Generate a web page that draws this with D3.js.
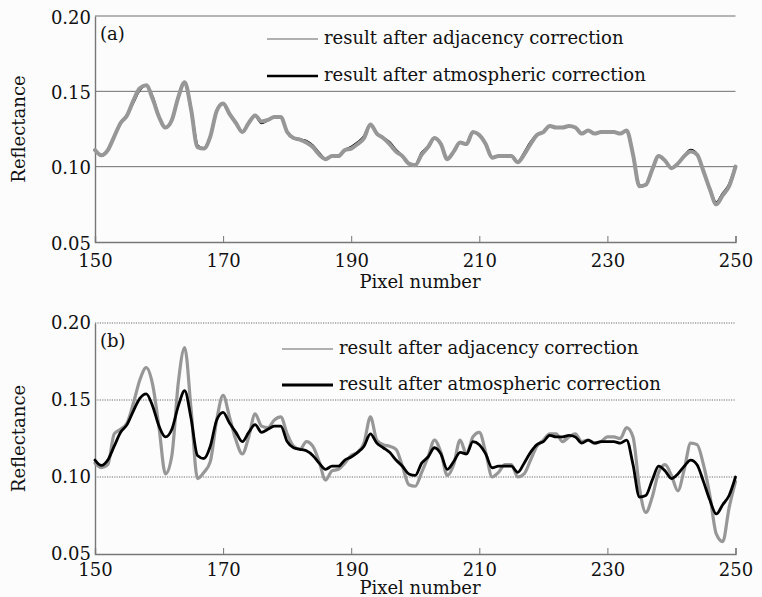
<!DOCTYPE html>
<html lang="en">
<head>
    <meta charset="UTF-8">
    <title>Reflectance</title>
    <script src="https://cdnjs.cloudflare.com/ajax/libs/d3/7.8.5/d3.min.js"></script>
</head>

<style>
body { margin: 0; background: #fcfcfc; }
text { font-family: "DejaVu Serif", serif; font-size: 18px; fill: #111; }
</style>

<body>
<div id="output"></div>
<script>

    // pixel numbers 150..250 and the axis ticks
    var pixels = d3.range(150, 251);
    var xTicks = [150, 170, 190, 210, 230, 250];
    var yTicks = [0.05, 0.10, 0.15, 0.20];
    var seriesNames = ["result after adjacency correction", "result after atmospheric correction"];

    // result after atmospheric correction (same curve in both panels)
    var atmospheric = [
        0.111, 0.1075, 0.111, 0.120, 0.129, 0.134, 0.143, 0.151, 0.154, 0.146,
        0.133, 0.126, 0.131, 0.146, 0.156, 0.138, 0.114, 0.112, 0.120, 0.137,
        0.142, 0.135, 0.129, 0.123, 0.129, 0.134, 0.129, 0.131, 0.133, 0.133,
        0.123, 0.119, 0.118, 0.117, 0.114, 0.109, 0.105, 0.107, 0.107, 0.111,
        0.113, 0.116, 0.120, 0.128, 0.122, 0.119, 0.116, 0.111, 0.107, 0.102,
        0.101, 0.109, 0.113, 0.119, 0.115, 0.105, 0.110, 0.116, 0.115, 0.123,
        0.121, 0.115, 0.106, 0.107, 0.107, 0.107, 0.103, 0.109, 0.116, 0.121,
        0.123, 0.127, 0.126, 0.126, 0.127, 0.126, 0.122, 0.124, 0.122, 0.123,
        0.123, 0.123, 0.122, 0.124, 0.108, 0.087, 0.088, 0.098, 0.107, 0.104,
        0.099, 0.102, 0.107, 0.111, 0.108, 0.097, 0.085, 0.076, 0.082, 0.088,
        0.100
    ];

    // panel (a): adjacency correction, nearly on top of the black curve
    var adjacencyA = [
        0.111, 0.1075, 0.111, 0.120, 0.129, 0.134, 0.144, 0.152, 0.154, 0.145,
        0.133, 0.126, 0.131, 0.146, 0.156, 0.138, 0.113, 0.112, 0.120, 0.137,
        0.142, 0.135, 0.129, 0.123, 0.129, 0.134, 0.130, 0.131, 0.133, 0.133,
        0.123, 0.119, 0.118, 0.116, 0.113, 0.108, 0.105, 0.107, 0.107, 0.111,
        0.112, 0.115, 0.119, 0.128, 0.122, 0.119, 0.115, 0.110, 0.107, 0.102,
        0.101, 0.108, 0.113, 0.119, 0.115, 0.105, 0.110, 0.116, 0.115, 0.123,
        0.121, 0.115, 0.106, 0.107, 0.107, 0.107, 0.103, 0.108, 0.115, 0.121,
        0.123, 0.127, 0.126, 0.126, 0.127, 0.126, 0.122, 0.124, 0.122, 0.123,
        0.123, 0.123, 0.122, 0.124, 0.108, 0.087, 0.088, 0.098, 0.107, 0.104,
        0.099, 0.102, 0.107, 0.110, 0.108, 0.097, 0.085, 0.075, 0.081, 0.087,
        0.100
    ];

    // panel (b): adjacency correction, much stronger swings
    var adjacencyB = [
        0.109, 0.106, 0.108, 0.128, 0.131, 0.135, 0.148, 0.163, 0.171, 0.160,
        0.132, 0.102, 0.114, 0.161, 0.184, 0.144, 0.099, 0.103, 0.110, 0.137,
        0.153, 0.139, 0.124, 0.115, 0.126, 0.141, 0.133, 0.132, 0.137, 0.139,
        0.128, 0.120, 0.118, 0.123, 0.120, 0.110, 0.098, 0.104, 0.105, 0.109,
        0.114, 0.116, 0.122, 0.139, 0.124, 0.121, 0.120, 0.118, 0.107, 0.095,
        0.094, 0.103, 0.113, 0.124, 0.116, 0.101, 0.108, 0.124, 0.115, 0.126,
        0.129, 0.116, 0.100, 0.103, 0.108, 0.108, 0.100, 0.102, 0.111, 0.120,
        0.124, 0.128, 0.128, 0.123, 0.126, 0.128, 0.123, 0.124, 0.122, 0.123,
        0.126, 0.126, 0.125, 0.132, 0.126, 0.093, 0.077, 0.087, 0.103, 0.108,
        0.101, 0.091, 0.105, 0.122, 0.121, 0.108, 0.088, 0.063, 0.058, 0.080,
        0.097
    ];

    var W = 762, H = 597;
    var grey = "#979797";

    var svg = d3.select("#output").append("svg")
        .attr("width", W)
        .attr("height", H);

    svg.append("rect")
        .attr("width", W)
        .attr("height", H)
        .attr("fill", "#fcfcfc");

    function drawPanel(p) {
        var x = d3.scaleLinear().domain([150, 250]).range([95, 735.5]);
        var y = d3.scaleLinear().domain([0.05, 0.20]).range([p.bottom, p.top]);

        var g = svg.append("g");

        // horizontal grid lines (0.10, 0.15, 0.20)
        g.selectAll(".grid")
            .data(yTicks.slice(1))
            .enter()
            .append("line")
            .attr("x1", x(150))
            .attr("x2", x(250))
            .attr("y1", function(d) { return y(d); })
            .attr("y2", function(d) { return y(d); })
            .attr("stroke", "#6f6f6f")
            .attr("stroke-width", 1)
            .attr("stroke-dasharray", p.dotted ? "1.2,1.2" : null);

        // bottom axis with small inward ticks
        var xAxis = d3.axisBottom(x)
            .tickValues(xTicks)
            .tickSize(-6)
            .tickPadding(12)
            .tickFormat(d3.format("d"));

        var ax = g.append("g")
            .attr("transform", "translate(0," + y(0.05) + ")")
            .call(xAxis);
        ax.select(".domain").attr("stroke", "#777").attr("stroke-width", 1.4);
        ax.selectAll(".tick line").attr("stroke", "#777").attr("stroke-width", 1);
        ax.selectAll(".tick").filter(function(d) { return d == 150; }).select("line").remove();
        ax.selectAll("text")
            .attr("font-family", "DejaVu Serif")
            .attr("font-size", 18)
            .attr("fill", "#111")
            .attr("dy", null)
            .attr("y", p.xLabelDy);

        // left axis: only line and labels
        var yAxis = d3.axisLeft(y)
            .tickValues(yTicks)
            .tickSize(0)
            .tickPadding(4)
            .tickFormat(d3.format(".2f"));

        var ay = g.append("g")
            .attr("transform", "translate(" + x(150) + ",0)")
            .call(yAxis);
        ay.select(".domain").attr("stroke", "#777").attr("stroke-width", 1.4);
        ay.selectAll("text")
            .attr("font-family", "DejaVu Serif")
            .attr("font-size", 18)
            .attr("fill", "#111")
            .attr("dy", null)
            .attr("y", p.yLabelDy);

        var line = d3.line()
            .curve(d3.curveMonotoneX)
            .x(function(d, i) { return x(pixels[i]); })
            .y(function(d) { return y(d); });

        var curves = [
            {values: p.adjacency, color: grey, width: p.greyWidth},
            {values: atmospheric, color: "#000", width: p.blackWidth}
        ];
        if (p.greyOnTop) { curves.reverse(); }

        g.selectAll(".curve")
            .data(curves)
            .enter()
            .append("path")
            .attr("fill", "none")
            .attr("stroke", function(d) { return d.color; })
            .attr("stroke-width", function(d) { return d.width; })
            .attr("stroke-linejoin", "round")
            .attr("stroke-linecap", "round")
            .attr("d", function(d) { return line(d.values); });

        // legend
        var legend = [
            {name: seriesNames[0], color: grey, width: 1.6, y: p.legY[0]},
            {name: seriesNames[1], color: "#000", width: p.legBlack, y: p.legY[1]}
        ];
        var lg = g.selectAll(".legend")
            .data(legend)
            .enter()
            .append("g");
        lg.append("line")
            .attr("x1", p.legX)
            .attr("x2", p.legX + 51)
            .attr("y1", function(d) { return d.y; })
            .attr("y2", function(d) { return d.y; })
            .attr("stroke", function(d) { return d.color; })
            .attr("stroke-width", function(d) { return d.width; });
        lg.append("text")
            .attr("x", p.legX + 57)
            .attr("y", function(d) { return d.y + 5; })
            .text(function(d) { return d.name; });

        // panel letter
        g.append("text")
            .attr("x", 100)
            .attr("y", p.top + 24)
            .text(p.letter);

        // axis titles
        g.append("text")
            .attr("x", 420)
            .attr("y", p.xTitleY)
            .attr("text-anchor", "middle")
            .text("Pixel number");

        g.append("text")
            .attr("transform", "translate(25," + (p.top + p.bottom) / 2 + ") rotate(-90)")
            .attr("text-anchor", "middle")
            .text("Reflectance");
    }

    drawPanel({
        letter: "(a)", top: 16, bottom: 242, dotted: false,
        adjacency: adjacencyA, greyOnTop: true, greyWidth: 4, blackWidth: 2.6,
        legX: 267, legY: [39, 76], legBlack: 2.4,
        xLabelDy: 25, yLabelDy: 7, xTitleY: 288
    });

    drawPanel({
        letter: "(b)", top: 323, bottom: 554, dotted: true,
        adjacency: adjacencyB, greyOnTop: false, greyWidth: 3.2, blackWidth: 2.8,
        legX: 282, legY: [349, 385], legBlack: 3,
        xLabelDy: 22, yLabelDy: 5, xTitleY: 594
    });

</script>
</body>
</html>
